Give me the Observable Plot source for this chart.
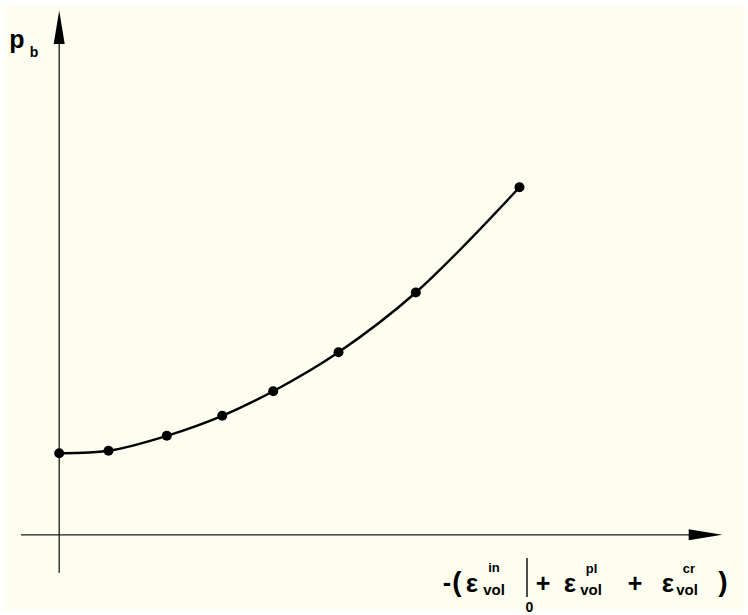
<!DOCTYPE html>
<html><head><meta charset="utf-8">
<script src="https://cdn.jsdelivr.net/npm/d3@7"></script>
<script src="https://cdn.jsdelivr.net/npm/@observablehq/plot@0.6"></script>
<style>
html,body{margin:0;padding:0;background:#fff;}
#wrap{position:relative;width:748px;height:615px;overflow:hidden;}
#bg{position:absolute;left:3px;top:6px;width:742px;height:605px;background:#fefef0;}
#chart{position:absolute;left:0;top:0;}
</style></head><body>
<div id="wrap"><div id="bg"></div><div id="chart"></div></div>
<script>
// data: total volumetric strain (arbitrary units) vs. pressure p_b
const strain   = [0, 0.493, 1.076, 1.63, 2.14, 2.793, 3.566, 4.603];
const pressure = [0.816, 0.84, 0.99, 1.19, 1.436, 1.826, 2.423, 3.476];
// axis extents (data units)
const xExtent = [-0.377, 6.63];
const yExtent = [-0.384, 5.243];

const points = strain.map((s, i) => ({s, p: pressure[i]}));

// filled, elongated arrowhead pointing "up", tip at the origin
const arrowHead = {
  draw(ctx) {
    ctx.moveTo(0, 0);
    ctx.lineTo(-5.5, 33.5);
    ctx.lineTo(5.5, 33.5);
    ctx.closePath();
  }
};

const svg = Plot.plot({
  width: 748,
  height: 615,
  margin: 0,
  style: {background: "transparent", overflow: "visible"},
  x: {domain: xExtent, range: [21, 721.7], axis: null},
  y: {domain: yExtent, range: [572.7, 10], axis: null},
  marks: [
    Plot.ruleY([0], {x1: xExtent[0], x2: xExtent[1] - 0.1, stroke: "#1a1a1a", strokeWidth: 1.3}),
    Plot.ruleX([0], {y1: yExtent[0], y2: yExtent[1] - 0.1, stroke: "#1a1a1a", strokeWidth: 1.3}),
    Plot.dot([{x: xExtent[1], y: 0, a: 90}, {x: 0, y: yExtent[1], a: 0}],
      {x: "x", y: "y", rotate: "a", symbol: arrowHead, fill: "#000", stroke: "none", r: 5}),
    Plot.line(points, {x: "s", y: "p", curve: "catmull-rom", stroke: "#000", strokeWidth: 2.4}),
    Plot.dot(points, {x: "s", y: "p", r: 5, fill: "#000", stroke: "none"})
  ]
});
document.getElementById("chart").appendChild(svg);

// axis labels
const font = "'Liberation Sans', Arial, Helvetica, sans-serif";
const labels = [
  {t: "p", x: 17, y: 48, s: 25},
  {t: "b", x: 34, y: 57, s: 14},
  {t: "-", x: 447, y: 591, s: 25},
  {t: "(", x: 457, y: 591, s: 28},
  {t: "ε", x: 472, y: 592, s: 26},
  {t: "in", x: 494, y: 572, s: 13},
  {t: "vol", x: 494, y: 595, s: 15},
  {t: "0", x: 529.5, y: 612, s: 14},
  {t: "+", x: 543, y: 592, s: 25},
  {t: "ε", x: 570, y: 592, s: 26},
  {t: "pl", x: 591.5, y: 573, s: 13},
  {t: "vol", x: 591, y: 595, s: 15},
  {t: "+", x: 635, y: 592, s: 25},
  {t: "ε", x: 668, y: 592, s: 26},
  {t: "cr", x: 689, y: 573, s: 13},
  {t: "vol", x: 687, y: 595, s: 15},
  {t: ")", x: 723, y: 591, s: 28}
];
const g = d3.select(svg).append("g")
  .attr("font-family", font).attr("font-weight", "bold").attr("fill", "#000");
g.selectAll("text").data(labels).join("text")
  .attr("x", d => d.x).attr("y", d => d.y)
  .attr("font-size", d => d.s)
  .text(d => d.t);
// evaluation bar "|_0"
g.append("line").attr("x1", 527).attr("x2", 527).attr("y1", 558).attr("y2", 597)
  .attr("stroke", "#000").attr("stroke-width", 1.4);
</script>
</body></html>
